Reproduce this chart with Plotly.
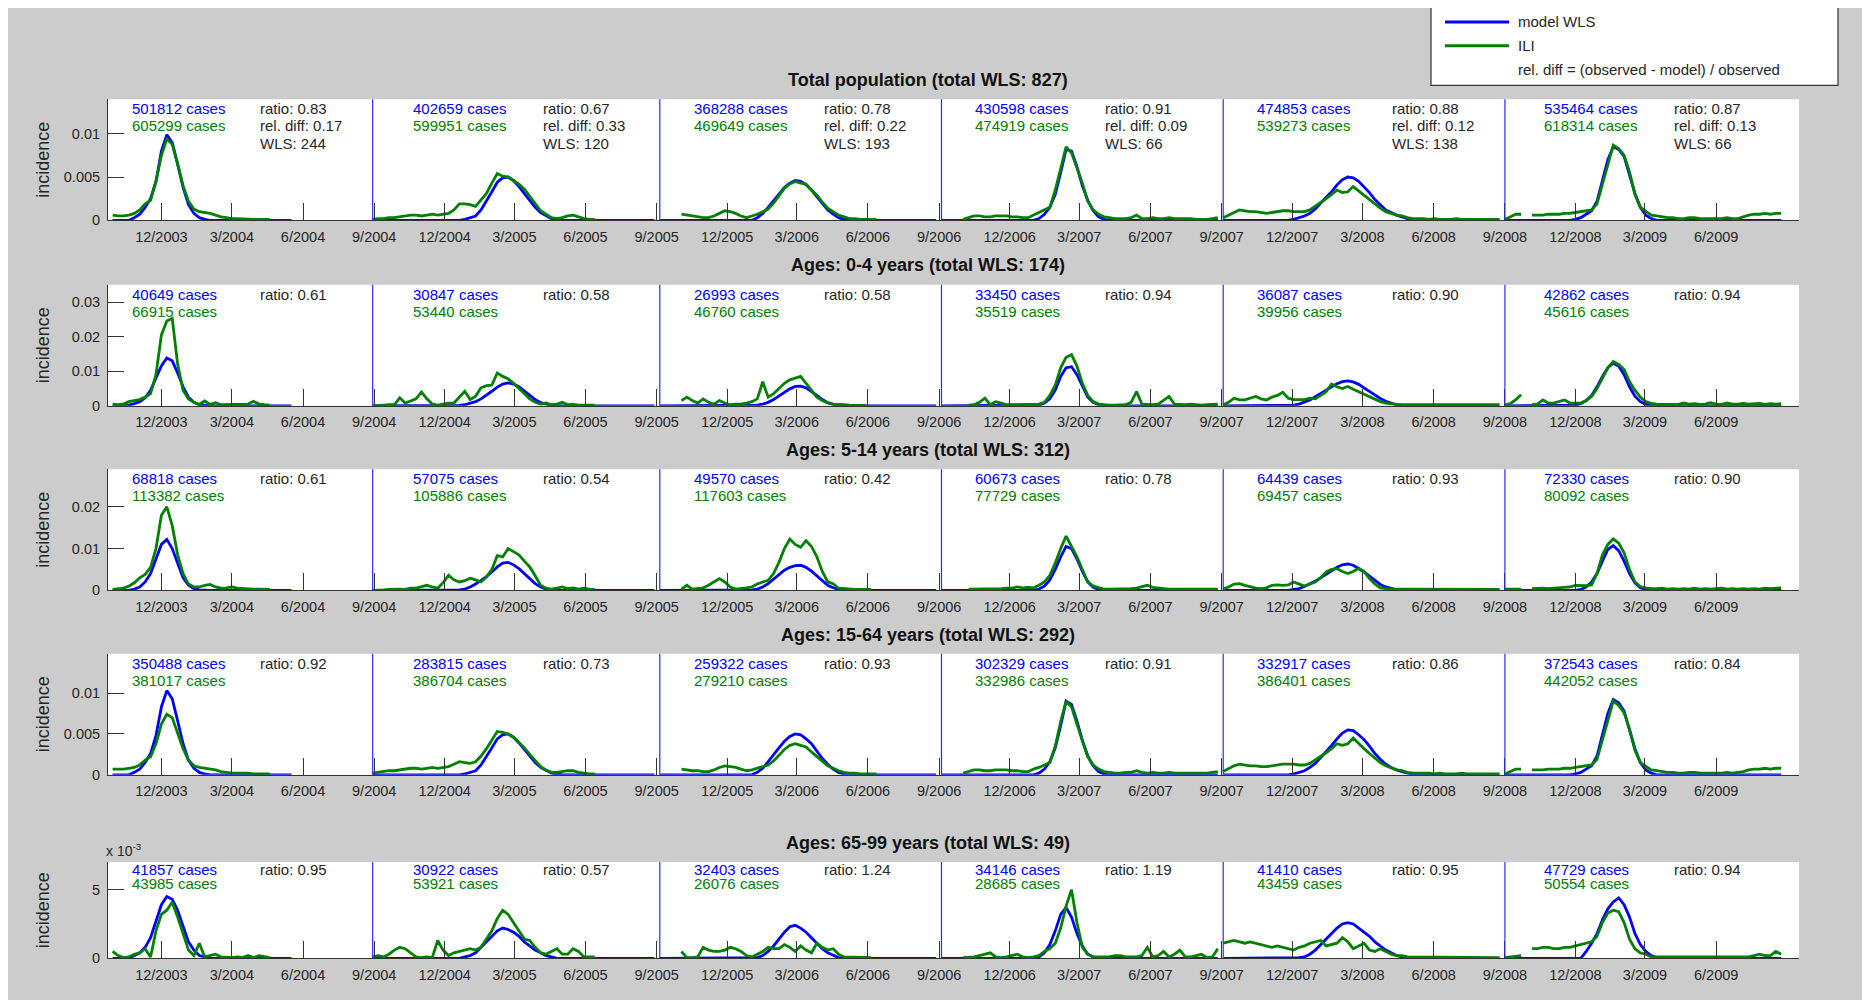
import plotly.graph_objects as go
import pandas as pd

# ---------------- data (incidence values in units of 1e-3) ----------------
UNIT = 1e-3
SEASON_START = ["2003-09-29", "2004-08-30", "2005-09-05", "2006-09-04", "2007-09-03", "2008-09-01"]
N = None

# Total population
model_total = [
    [0,0,0,0,0.3,0.7,1.5,2.5,4.5,8.0,9.9,9.0,6.5,3.8,1.8,0.8,0.3,0.1,0,0,0,0,0,0,0,0,0,0,0,0,0,0,0,0],
    [0,0,0,0,0,0,0,0,0,0,0,0,0,0,0,0,0,0.1,0.3,0.5,1.2,2.2,3.3,4.4,4.9,5.0,4.6,3.9,3.1,2.3,1.5,0.9,0.5,0.2,0.1,0,0,0,0,0,0,0,0,0,0,0,0,0,0,0,0,0,0],
    [0,0,0,0,0,0,0,0,0,0,0,0,0,0,0,0,0,0,0.3,0.8,1.5,2.3,3.0,3.8,4.3,4.6,4.5,4.1,3.5,2.7,1.9,1.2,0.7,0.3,0.1,0,0,0,0,0,0,0,0,0,0,0,0,0,0,0,0,0],
    [0,0,0,0,0,0,0,0,0,0,0,0,0,0,0,0,0,0,0.2,0.7,1.5,3.0,5.5,8.2,8.0,6.2,4.0,2.3,1.1,0.4,0.1,0,0,0,0,0,0,0,0,0,0,0,0,0,0,0,0,0,0,0,0,0],
    [0,0,0,0,0,0,0,0,0,0,0,0,0,0.1,0.3,0.5,0.8,1.3,2.0,2.6,3.3,4.1,4.7,5.0,4.9,4.5,3.9,3.2,2.4,1.8,1.2,0.9,0.6,0.4,0.2,0.1,0,0,0,0,0,0,0,0,0,0,0,0,0,0,0,0],
    [0,0,0,0,0,0,0,0,0,0,0,0,0,0.1,0.3,0.7,1.1,2.2,4.5,7.0,8.5,8.2,7.4,5.3,3.1,1.5,0.6,0.2,0,0,0,0,0,0,0,0,0,0,0,0,0,0,0,0,0,0,0,0,0,0,0,0],
]
ili_total = [
    [0.6,0.5,0.5,0.6,0.8,1.2,1.9,2.3,4.5,7.5,9.4,8.8,6.5,4.0,2.2,1.3,1.0,0.9,0.8,0.6,0.4,0.3,0.2,0.2,0.15,0.15,0.1,0.1,0.1,0.1],
    [0.1,0.2,0.2,0.3,0.3,0.4,0.5,0.6,0.6,0.5,0.6,0.7,0.6,0.7,0.8,1.2,1.9,1.9,1.8,1.6,2.3,3.1,4.3,5.4,5.1,5.0,4.6,4.2,3.6,2.8,2.0,1.1,0.7,0.3,0.2,0.3,0.5,0.6,0.4,0.2,0.1,0.1],
    [N,N,N,N,0.7,0.6,0.5,0.4,0.3,0.3,0.5,0.8,1.1,1.0,0.8,0.5,0.3,0.5,0.7,1.0,1.3,2.0,2.8,3.7,4.2,4.5,4.3,4.2,3.5,2.9,2.1,1.4,1.0,0.6,0.4,0.2,0.2,0.1,0.1,0.1,0.1],
    [N,N,N,N,0.1,0.3,0.5,0.5,0.4,0.4,0.5,0.5,0.5,0.4,0.4,0.3,0.3,0.6,0.9,1.2,1.5,3.5,6.0,8.5,7.8,6.0,4.3,2.2,1.2,0.7,0.4,0.3,0.2,0.2,0.2,0.3,0.6,0.2,0.2,0.3,0.2,0.2,0.3,0.2,0.2,0.2,0.2,0.1,0.1,0.1,0.2,0.3],
    [0.3,0.6,0.9,1.2,1.1,1.0,1.0,0.9,0.8,0.9,1.0,1.1,1.1,1.0,1.0,1.0,1.2,1.6,2.0,2.5,3.0,3.5,3.2,3.3,3.9,3.4,2.9,2.4,1.8,1.4,1.0,0.8,0.6,0.5,0.3,0.2,0.2,0.2,0.1,0.2,0.1,0.1,0.1,0.2,0.1,0.1,0.1,0.1,0.1,0.1,0.1,0.1],
    [0.1,0.4,0.7,0.7,N,0.6,0.6,0.6,0.7,0.7,0.7,0.8,0.8,0.9,1.0,1.1,1.2,1.9,4.2,6.5,8.7,8.3,7.5,5.6,3.0,1.5,1.0,0.6,0.5,0.4,0.3,0.3,0.2,0.2,0.3,0.3,0.2,0.2,0.2,0.2,0.2,0.3,0.2,0.2,0.4,0.6,0.7,0.7,0.8,0.7,0.8,0.8],
]

# Ages 0-4
model_0_4 = [
    [0,0,0,0.2,0.6,1.2,2.3,4.5,8.0,11.5,13.8,13.0,9.5,5.5,2.5,1.0,0.3,0.1,0,0,0,0,0,0,0,0,0,0,0,0,0,0,0,0],
    [0,0,0,0,0,0,0,0,0,0,0,0,0,0,0,0,0.1,0.3,0.7,1.2,2.0,3.0,4.2,5.4,6.3,6.6,6.3,5.5,4.3,3.0,1.8,0.9,0.4,0.1,0,0,0,0,0,0,0,0,0,0,0,0,0,0,0,0,0,0,0],
    [0,0,0,0,0,0,0,0,0,0,0,0,0,0,0,0,0,0,0.2,0.5,1.0,1.8,2.8,3.9,4.9,5.6,5.7,5.2,4.2,3.0,1.8,0.9,0.4,0.1,0,0,0,0,0,0,0,0,0,0,0,0,0,0,0,0,0,0],
    [0,0,0,0,0,0,0,0,0,0,0,0,0,0,0,0,0,0,0.2,0.8,2.0,4.5,8.5,11.0,11.3,9.0,5.5,2.5,1.0,0.3,0,0,0,0,0,0,0,0,0,0,0,0,0,0,0,0,0,0,0,0,0,0],
    [0,0,0,0,0,0,0,0,0,0,0,0,0,0.2,0.5,1.0,1.7,2.6,3.6,4.6,5.6,6.4,7.0,7.2,6.9,6.2,5.2,4.1,3.0,2.1,1.3,0.7,0.3,0.1,0,0,0,0,0,0,0,0,0,0,0,0,0,0,0,0,0,0],
    [0,0,0,0,0,0,0,0,0,0,0,0,0,0.2,0.6,1.5,3.0,5.5,8.5,11.0,12.3,11.5,9.0,5.5,2.8,1.2,0.4,0.1,0,0,0,0,0,0,0,0,0,0,0,0,0,0,0,0,0,0,0,0,0,0,0,0],
]
ili_0_4 = [
    [0.5,0.3,0.5,1.2,1.5,1.8,2.5,3.5,9.0,20.5,24.5,25.3,12.0,4.5,2.0,1.0,0.4,1.4,0.4,0.9,0.3,0.3,0.4,0.3,0.4,0.5,1.3,0.5,0.3,0.2],
    [0,0,0.2,0.3,0.3,2.3,0.8,1.4,2.0,4.0,2.0,0.5,0.2,0.5,0.8,0.8,2.5,4.2,1.8,2.8,5.2,5.8,6.0,9.5,8.5,7.8,6.5,5.0,3.5,2.0,1.0,0.5,0.8,0.3,0.5,1.0,0.3,0.4,0.2,0.3,0.2,0.2],
    [N,N,N,N,1.5,2.5,1.5,0.8,2.0,1.0,0.5,1.5,0.8,0.3,0.5,0.5,0.8,1.2,2.0,7.0,2.5,3.5,5.0,6.5,7.5,8.0,8.5,6.5,4.5,2.5,1.5,0.8,0.5,0.3,0.3,0.2,0.2,0.1,0.1],
    [N,N,N,N,N,0.2,0.3,1.0,2.2,0.3,1.2,0.8,0.3,0.3,0.3,0.3,0.3,0.3,0.5,1.0,3.0,6.0,11.0,14.0,14.8,11.5,6.5,3.0,1.2,0.5,0.3,0.2,0.2,0.2,0.3,1.0,4.1,0.5,0.3,0.3,0.5,1.5,2.7,0.5,0.3,0.3,0.5,0.3,0.2,0.3,0.4,0.5],
    [0.3,1.0,2.2,1.7,1.7,2.2,2.7,2.0,1.7,2.5,3.0,3.9,2.2,1.8,1.7,1.8,2.2,2.0,3.0,4.1,6.3,5.5,5.0,5.6,4.8,4.1,3.5,2.7,2.0,1.2,0.8,0.5,0.4,0.3,0.3,0.3,0.4,0.3,0.3,0.5,0.3,0.3,0.4,0.3,0.3,0.3,0.3,0.3,0.3,0.3,0.3,0.3],
    [0.3,0.6,1.8,3.2,N,0.3,0.5,1.7,0.8,0.8,1.2,1.7,0.8,0.8,0.8,1.5,2.7,5.0,8.0,11.0,12.8,12.0,10.5,7.0,4.5,2.5,1.2,0.7,0.5,0.5,0.4,0.5,0.4,0.8,0.5,0.6,0.4,0.5,0.9,0.5,0.4,0.8,0.5,0.5,0.7,0.5,0.5,0.7,0.4,0.6,0.5,0.6],
]

# Ages 5-14
model_5_14 = [
    [0,0,0,0,0.3,0.8,2.0,4.0,7.5,11.0,12.2,10.0,6.5,3.0,1.2,0.4,0.1,0,0,0,0,0,0,0,0,0,0,0,0,0,0,0,0,0],
    [0,0,0,0,0,0,0,0,0,0,0,0,0,0,0,0,0.1,0.3,0.8,1.5,2.3,3.3,4.4,5.6,6.5,6.7,6.1,5.2,4.0,2.8,1.6,0.8,0.3,0.1,0,0,0,0,0,0,0,0,0,0,0,0,0,0,0,0,0,0,0],
    [0,0,0,0,0,0,0,0,0,0,0,0,0,0,0,0,0,0.1,0.3,0.8,1.6,2.6,3.8,4.8,5.5,5.9,6.0,5.5,4.6,3.5,2.2,1.2,0.6,0.2,0,0,0,0,0,0,0,0,0,0,0,0,0,0,0,0,0,0],
    [0,0,0,0,0,0,0,0,0,0,0,0,0,0,0,0,0,0,0.3,1.0,2.5,5.0,8.0,10.5,10.0,7.5,4.5,2.0,0.7,0.2,0,0,0,0,0,0,0,0,0,0,0,0,0,0,0,0,0,0,0,0,0,0],
    [0,0,0,0,0,0,0,0,0,0,0,0,0,0.2,0.4,0.9,1.5,2.2,3.0,3.9,4.8,5.5,6.1,6.3,6.0,5.3,4.4,3.4,2.3,1.4,0.8,0.4,0.1,0,0,0,0,0,0,0,0,0,0,0,0,0,0,0,0,0,0,0],
    [0,0,0,0,0,0,0,0,0,0,0,0,0,0,0.2,0.8,2.0,4.0,7.0,9.8,10.7,9.5,7.0,4.0,1.8,0.6,0.2,0,0,0,0,0,0,0,0,0,0,0,0,0,0,0,0,0,0,0,0,0,0,0,0,0],
]
ili_5_14 = [
    [0.2,0.3,0.5,1.0,1.8,3.0,3.8,5.5,10.0,18.0,20.0,15.5,8.5,4.0,1.5,0.8,0.8,1.2,1.4,0.8,0.5,0.6,0.8,0.5,0.4,0.4,0.3,0.3,0.3,0.2],
    [0,0,0.1,0.2,0.3,0.3,0.2,0.5,0.5,0.8,1.2,0.8,0.5,1.8,3.6,2.5,2.0,2.3,2.9,2.5,2.0,3.2,5.0,8.3,8.0,10.0,9.2,8.5,7.0,5.6,3.5,1.2,0.5,0.3,0.5,0.8,0.4,0.6,0.3,0.5,0.3,0.2],
    [N,N,N,N,0.3,1.2,0.3,0.4,0.6,1.2,2.0,2.8,2.0,0.8,0.3,0.4,0.6,0.8,1.5,2.0,2.4,4.0,6.7,10.0,12.3,11.0,10.3,11.9,10.5,8.0,4.5,2.0,1.6,0.5,0.4,0.2,0.2,0.2,0.2,0.2],
    [N,N,N,N,N,0.3,0.3,0.3,0.4,0.4,0.3,0.4,0.5,0.5,0.8,0.6,0.7,0.6,1.2,2.0,3.6,6.5,10.0,13.0,10.5,8.0,5.0,2.0,1.0,0.6,0.3,0.3,0.3,0.3,0.3,0.4,0.5,0.8,1.2,0.7,0.5,0.4,0.3,0.3,0.3,0.2,0.3,0.2,0.2,0.2,0.2,0.3],
    [0.3,0.8,1.5,1.6,1.2,0.8,0.5,0.4,0.6,1.2,1.3,1.2,1.3,2.0,1.5,1.0,1.5,2.0,3.0,4.4,5.0,5.2,4.5,4.0,4.5,5.3,4.5,2.8,1.5,0.6,0.4,0.3,0.3,0.3,0.3,0.3,0.3,0.2,0.3,0.2,0.3,0.2,0.2,0.2,0.3,0.2,0.2,0.2,0.2,0.2,0.2,0.2],
    [0.3,0.3,0.4,0.3,N,0.4,0.5,0.5,0.4,0.5,0.6,0.6,0.8,1.2,1.2,1.1,1.3,4.0,8.5,11.0,12.3,11.3,9.0,5.0,2.0,0.9,0.6,0.4,0.4,0.5,0.3,0.4,0.3,0.4,0.3,0.5,0.3,0.4,0.3,0.4,0.5,0.3,0.4,0.3,0.4,0.3,0.4,0.3,0.5,0.4,0.5,0.6],
]

# Ages 15-64
model_15_64 = [
    [0,0,0,0,0.3,0.7,1.5,2.6,4.8,8.3,10.3,9.3,6.6,3.8,1.8,0.8,0.3,0.1,0,0,0,0,0,0,0,0,0,0,0,0,0,0,0,0],
    [0,0,0,0,0,0,0,0,0,0,0,0,0,0,0,0,0,0.1,0.3,0.5,1.2,2.2,3.3,4.4,4.9,5.0,4.6,3.9,3.1,2.3,1.5,0.9,0.5,0.2,0.1,0,0,0,0,0,0,0,0,0,0,0,0,0,0,0,0,0,0],
    [0,0,0,0,0,0,0,0,0,0,0,0,0,0,0,0,0,0,0.3,0.8,1.6,2.5,3.3,4.1,4.7,5.0,4.9,4.4,3.8,2.9,2.0,1.3,0.7,0.3,0.1,0,0,0,0,0,0,0,0,0,0,0,0,0,0,0,0,0],
    [0,0,0,0,0,0,0,0,0,0,0,0,0,0,0,0,0,0,0.2,0.7,1.6,3.3,6.0,9.0,8.6,6.6,4.2,2.3,1.1,0.4,0.1,0,0,0,0,0,0,0,0,0,0,0,0,0,0,0,0,0,0,0,0,0],
    [0,0,0,0,0,0,0,0,0,0,0,0,0,0.1,0.3,0.5,0.9,1.4,2.1,2.8,3.6,4.4,5.1,5.5,5.4,4.9,4.3,3.5,2.6,1.9,1.3,0.9,0.6,0.4,0.2,0.1,0,0,0,0,0,0,0,0,0,0,0,0,0,0,0,0],
    [0,0,0,0,0,0,0,0,0,0,0,0,0,0.1,0.3,0.7,1.1,2.3,4.8,7.5,9.2,8.8,7.8,5.6,3.2,1.5,0.6,0.2,0,0,0,0,0,0,0,0,0,0,0,0,0,0,0,0,0,0,0,0,0,0,0,0],
]
ili_15_64 = [
    [0.7,0.7,0.7,0.8,0.9,1.2,1.8,2.2,3.8,6.2,7.4,7.0,5.2,3.2,1.8,1.1,0.9,0.8,0.7,0.6,0.4,0.3,0.2,0.2,0.2,0.2,0.1,0.1,0.1,0.1],
    [0.2,0.3,0.4,0.5,0.5,0.6,0.7,0.8,0.8,0.7,0.8,0.9,0.8,0.9,1.0,1.3,1.6,1.5,1.4,1.6,2.3,3.2,4.3,5.3,5.2,5.0,4.6,4.0,3.3,2.5,1.7,1.0,0.6,0.3,0.3,0.4,0.5,0.5,0.3,0.2,0.1,0.1],
    [N,N,N,N,0.7,0.6,0.5,0.5,0.4,0.4,0.6,0.9,1.1,1.0,0.9,0.7,0.5,0.6,0.8,1.0,1.2,1.7,2.4,3.1,3.6,3.8,3.6,3.4,2.8,2.2,1.6,1.1,0.8,0.5,0.3,0.2,0.2,0.1,0.1,0.1,0.1],
    [N,N,N,N,0.2,0.4,0.6,0.6,0.5,0.5,0.6,0.6,0.6,0.5,0.5,0.4,0.4,0.7,0.9,1.2,1.5,3.5,6.5,9.0,8.3,6.2,4.3,2.2,1.2,0.7,0.4,0.3,0.2,0.2,0.3,0.3,0.5,0.3,0.2,0.3,0.2,0.2,0.3,0.2,0.2,0.2,0.2,0.2,0.2,0.2,0.3,0.4],
    [0.4,0.8,1.1,1.3,1.2,1.1,1.1,1.0,1.0,1.1,1.2,1.3,1.3,1.3,1.2,1.2,1.4,1.8,2.2,2.7,3.2,3.8,3.6,3.8,4.5,3.8,3.2,2.6,2.0,1.5,1.1,0.8,0.6,0.5,0.3,0.2,0.2,0.2,0.2,0.1,0.2,0.1,0.1,0.1,0.2,0.1,0.1,0.1,0.1,0.1,0.1,0.1],
    [0.1,0.4,0.7,0.7,N,0.6,0.6,0.6,0.7,0.7,0.7,0.8,0.8,0.9,1.0,1.1,1.2,1.9,4.2,6.8,9.0,8.5,7.6,5.6,3.0,1.5,1.0,0.6,0.5,0.4,0.3,0.3,0.2,0.2,0.3,0.3,0.2,0.2,0.2,0.2,0.2,0.3,0.2,0.3,0.4,0.6,0.7,0.7,0.8,0.7,0.8,0.8],
]

# Ages 65-99
model_65_99 = [
    [0,0,0,0,0.2,0.4,0.8,1.5,2.7,3.9,4.5,4.3,3.5,2.3,1.2,0.6,0.2,0.1,0,0,0,0,0,0,0,0,0,0,0,0,0,0,0,0],
    [0,0,0,0,0,0,0,0,0,0,0,0,0,0,0,0,0,0.1,0.2,0.4,0.8,1.2,1.6,2.0,2.2,2.1,1.9,1.6,1.2,0.9,0.6,0.4,0.2,0.1,0,0,0,0,0,0,0,0,0,0,0,0,0,0,0,0,0,0,0],
    [0,0,0,0,0,0,0,0,0,0,0,0,0,0,0,0,0,0,0.05,0.2,0.5,0.9,1.4,1.9,2.3,2.4,2.2,1.9,1.5,1.1,0.7,0.4,0.2,0.05,0,0,0,0,0,0,0,0,0,0,0,0,0,0,0,0,0,0],
    [0,0,0,0,0,0,0,0,0,0,0,0,0,0,0,0,0,0,0.1,0.4,1.0,2.0,3.2,3.7,3.0,1.8,0.9,0.3,0.1,0,0,0,0,0,0,0,0,0,0,0,0,0,0,0,0,0,0,0,0,0,0,0],
    [0,0,0,0,0,0,0,0,0,0,0,0,0,0,0.05,0.1,0.3,0.6,1.0,1.4,1.8,2.2,2.5,2.6,2.5,2.2,1.9,1.6,1.2,0.9,0.6,0.4,0.2,0.1,0,0,0,0,0,0,0,0,0,0,0,0,0,0,0,0,0,0],
    [0,0,0,0,0,0,0,0,0,0,0,0,0,0,0,0.5,1.1,1.8,2.8,3.6,4.1,4.4,3.9,3.0,1.8,1.0,0.5,0.2,0.05,0,0,0,0,0,0,0,0,0,0,0,0,0,0,0,0,0,0,0,0,0,0,0],
]
ili_65_99 = [
    [0.5,0.2,0.05,0.1,0.3,0.4,0.7,0.1,2.0,3.2,3.5,4.1,3.0,1.8,0.6,0.2,1.1,0.1,0.2,0.3,0.1,0.05,0.05,0.1,0.05,0.2,0.05,0.2,0.1,0.05],
    [0.1,0.2,0.1,0.3,0.6,0.8,0.7,0.4,0.1,0.05,0.1,0.05,1.3,0.6,0.2,0.4,0.5,0.6,0.7,0.6,0.8,1.4,2.0,2.9,3.5,3.2,2.6,2.0,1.4,1.3,0.8,0.4,0.3,0.5,0.7,0.3,0.3,0.7,0.5,0.1,0.1,0.1],
    [N,N,N,N,0.5,0.05,0.05,0.1,0.8,0.6,0.5,0.5,0.6,0.8,0.7,0.5,0.2,0.1,0.3,0.5,0.8,0.7,0.7,1.0,0.8,0.5,0.9,0.6,0.4,1.1,0.8,0.6,0.7,0.3,0.1,0.1,0.05,0.05,0.05,0.05],
    [N,N,N,N,0.05,0.05,0.1,0.2,0.3,0.4,0.1,0.05,0.1,0.2,0.3,0.1,0.05,0.1,0.2,0.5,0.7,1.1,2.2,3.8,5.0,2.6,0.8,0.3,0.1,0.1,0.1,0.1,0.2,0.2,0.1,0.1,0.1,0.2,0.8,0.1,0.2,0.5,0.1,0.3,0.6,0.1,0.1,0.2,0.3,0.05,0.1,0.7],
    [1.1,1.2,1.3,1.2,1.1,1.2,1.1,1.0,0.9,0.8,0.9,0.8,0.7,0.6,0.8,0.9,1.1,1.2,1.3,0.9,1.0,1.1,1.5,1.2,0.7,0.9,1.1,0.6,0.5,0.7,0.5,0.3,0.2,0.2,0.1,0.1,0.05,0.1,0.05,0.1,0.05,0.05,0.1,0.05,0.1,0.05,0.05,0.1,0.05,0.05,0.05,0.05],
    [0.05,0.1,0.15,0.2,N,0.7,0.7,0.8,0.8,0.7,0.7,0.8,0.8,0.9,1.0,1.1,1.2,1.6,2.6,3.3,3.5,3.4,2.6,1.4,0.7,0.4,0.3,0.1,0.1,0.1,0.1,0.05,0.1,0.1,0.05,0.1,0.1,0.05,0.1,0.1,0.1,0.05,0.1,0.1,0.1,0.1,0.2,0.3,0.2,0.2,0.5,0.3],
]

# annotation texts
titles = ["Total population (total WLS: 827)", "Ages: 0-4 years (total WLS: 174)",
          "Ages: 5-14 years (total WLS: 312)", "Ages: 15-64 years (total WLS: 292)",
          "Ages: 65-99 years (total WLS: 49)"]
cases_model = [
    [501812, 402659, 368288, 430598, 474853, 535464],
    [40649, 30847, 26993, 33450, 36087, 42862],
    [68818, 57075, 49570, 60673, 64439, 72330],
    [350488, 283815, 259322, 302329, 332917, 372543],
    [41857, 30922, 32403, 34146, 41410, 47729],
]
cases_ili = [
    [605299, 599951, 469649, 474919, 539273, 618314],
    [66915, 53440, 46760, 35519, 39956, 45616],
    [113382, 105886, 117603, 77729, 69457, 80092],
    [381017, 386704, 279210, 332986, 386401, 442052],
    [43985, 53921, 26076, 28685, 43459, 50554],
]
ratios = [
    [0.83, 0.67, 0.78, 0.91, 0.88, 0.87],
    [0.61, 0.58, 0.58, 0.94, 0.90, 0.94],
    [0.61, 0.54, 0.42, 0.78, 0.93, 0.90],
    [0.92, 0.73, 0.93, 0.91, 0.86, 0.84],
    [0.95, 0.57, 1.24, 1.19, 0.95, 0.94],
]
rel_diff_total = [0.17, 0.33, 0.22, 0.09, 0.12, 0.13]
wls_total = [244, 120, 193, 66, 138, 66]

x_tick_dates = []
x_tick_text = []
for yr in range(2003, 2010):
    for mo in (3, 6, 9, 12):
        d = pd.Timestamp(yr, mo, 1)
        if pd.Timestamp("2003-11-01") < d < pd.Timestamp("2009-07-01"):
            x_tick_dates.append(d)
            x_tick_text.append(f"{mo}/{yr}")

y_max = [0.014, 0.035, 0.029, 0.0148, 0.007]
y_ticks = [[0, 0.005, 0.01], [0, 0.01, 0.02, 0.03], [0, 0.01, 0.02], [0, 0.005, 0.01], [0, 0.005]]
y_ticktext = [["0", "0.005", "0.01"], ["0", "0.01", "0.02", "0.03"], ["0", "0.01", "0.02"],
              ["0", "0.005", "0.01"], ["0", "5"]]

# ---------------- layout geometry ----------------
W, H = 1870, 1000
panel_px = [(92, 214), (279, 401), (465, 587), (651, 773), (861, 958)]
title_px = [73, 259, 446, 632, 842]
x_dom = [100 / W, 1791 / W]
x_range = ["2003-09-23", "2009-09-16"]
blue_text_x = ["2003-10-21", "2004-10-18", "2005-10-16", "2006-10-15", "2007-10-14", "2008-10-19"]
black_text_x = ["2004-04-04", "2005-04-04", "2006-04-02", "2007-04-01", "2008-04-06", "2009-04-05"]
row_y = [0.92, 0.78, 0.635]

FONT = "Liberation Sans, Arial, sans-serif"
BLUE = "#0000ff"
GREEN = "#008000"
DARK = "#262626"

model_sets = [model_total, model_0_4, model_5_14, model_15_64, model_65_99]
ili_sets = [ili_total, ili_0_4, ili_5_14, ili_15_64, ili_65_99]

fig = go.Figure()
annotations = []
shapes = []

for p in range(5):
    xa = "x" if p == 0 else f"x{p+1}"
    ya = "y" if p == 0 else f"y{p+1}"
    for s in range(6):
        xs = pd.date_range(SEASON_START[s], periods=len(model_sets[p][s]), freq="7D")
        fig.add_trace(go.Scatter(x=xs, y=[v * UNIT for v in model_sets[p][s]], mode="lines",
                                 line=dict(color=BLUE, width=2.8), xaxis=xa, yaxis=ya,
                                 showlegend=False, hoverinfo="skip"))
    for s in range(6):
        vals = ili_sets[p][s]
        xs = pd.date_range(SEASON_START[s], periods=len(vals), freq="7D")
        fig.add_trace(go.Scatter(x=xs, y=[None if v is None else v * UNIT for v in vals], mode="lines",
                                 line=dict(color=GREEN, width=2.8), xaxis=xa, yaxis=ya,
                                 connectgaps=False, showlegend=False, hoverinfo="skip"))

    top, bot = panel_px[p]
    ydom = [1 - bot / H, 1 - top / H]
    fig.layout[("xaxis" if p == 0 else f"xaxis{p+1}")] = dict(
        domain=x_dom, range=x_range, type="date", anchor=ya,
        tickmode="array", tickvals=x_tick_dates, ticktext=x_tick_text,
        ticks="inside", ticklen=17, tickwidth=1, tickcolor="#333333",
        showline=True, linecolor="#333333", linewidth=1, mirror=False,
        showgrid=False, zeroline=False, ticklabelstandoff=3,
        tickfont=dict(family=FONT, size=14.5, color=DARK))
    fig.layout[("yaxis" if p == 0 else f"yaxis{p+1}")] = dict(
        domain=ydom, range=[0, y_max[p]], anchor=xa,
        tickmode="array", tickvals=y_ticks[p], ticktext=y_ticktext[p],
        ticks="inside", ticklen=16, tickwidth=1, tickcolor="#333333",
        showline=True, linecolor="#333333", linewidth=1, mirror=False,
        showgrid=False, zeroline=False, ticklabelstandoff=4,
        tickfont=dict(family=FONT, size=14.5, color=DARK))

    # season separators
    for s in range(1, 6):
        shapes.append(dict(type="line", xref=xa, yref=f"{ya} domain", x0=SEASON_START[s], x1=SEASON_START[s],
                           y0=0, y1=1, line=dict(color="#2a2aff", width=1.2)))

    # title
    annotations.append(dict(text=f"<b>{titles[p]}</b>", xref="paper", yref="paper", x=920 / W,
                            y=1 - title_px[p] / H, xanchor="center", yanchor="middle", showarrow=False,
                            font=dict(family=FONT, size=18, color="#111111")))
    # y label
    annotations.append(dict(text="incidence", xref="paper", yref="paper", x=35 / W,
                            y=1 - (top + bot) / 2 / H, xanchor="center", yanchor="middle", textangle=-90,
                            showarrow=False, font=dict(family=FONT, size=18, color=DARK)))
    # season texts
    for s in range(6):
        annotations.append(dict(text=f"{cases_model[p][s]} cases", xref=xa, yref=f"{ya} domain",
                                x=blue_text_x[s], y=row_y[0], xanchor="left", yanchor="middle",
                                showarrow=False, font=dict(family=FONT, size=15, color=BLUE)))
        annotations.append(dict(text=f"{cases_ili[p][s]} cases", xref=xa, yref=f"{ya} domain",
                                x=blue_text_x[s], y=row_y[1], xanchor="left", yanchor="middle",
                                showarrow=False, font=dict(family=FONT, size=15, color=GREEN)))
        annotations.append(dict(text=f"ratio: {ratios[p][s]:.2f}", xref=xa, yref=f"{ya} domain",
                                x=black_text_x[s], y=row_y[0], xanchor="left", yanchor="middle",
                                showarrow=False, font=dict(family=FONT, size=15, color=DARK)))
        if p == 0:
            annotations.append(dict(text=f"rel. diff: {rel_diff_total[s]:.2f}", xref=xa, yref=f"{ya} domain",
                                    x=black_text_x[s], y=row_y[1], xanchor="left", yanchor="middle",
                                    showarrow=False, font=dict(family=FONT, size=15, color=DARK)))
            annotations.append(dict(text=f"WLS: {wls_total[s]}", xref=xa, yref=f"{ya} domain",
                                    x=black_text_x[s], y=row_y[2], xanchor="left", yanchor="middle",
                                    showarrow=False, font=dict(family=FONT, size=15, color=DARK)))

# exponent label for last panel
annotations.append(dict(text="x 10<sup>-3</sup>", xref="paper", yref="paper", x=96 / W, y=1 - 849 / H,
                        xanchor="left", yanchor="middle", showarrow=False,
                        font=dict(family=FONT, size=14, color=DARK)))

# legend box (manual)
shapes.append(dict(type="rect", xref="paper", yref="paper", x0=1423 / W, x1=1830 / W, y0=1 - 78 / H, y1=1.02,
                   fillcolor="white", line=dict(color="#333333", width=1.2), layer="above"))
shapes.append(dict(type="line", xref="paper", yref="paper", x0=1437 / W, x1=1501 / W, y0=1 - 14 / H, y1=1 - 14 / H,
                   line=dict(color=BLUE, width=3), layer="above"))
shapes.append(dict(type="line", xref="paper", yref="paper", x0=1437 / W, x1=1501 / W, y0=1 - 38 / H, y1=1 - 38 / H,
                   line=dict(color=GREEN, width=3), layer="above"))
for txt, ypx in [("model WLS", 14), ("ILI", 38), ("rel. diff = (observed - model) / observed", 62)]:
    annotations.append(dict(text=txt, xref="paper", yref="paper", x=1508 / W, y=1 - ypx / H,
                            xanchor="left", yanchor="middle", showarrow=False,
                            font=dict(family=FONT, size=15, color=DARK)))

fig.update_layout(width=W, height=H, margin=dict(l=0, r=0, t=0, b=0),
                  paper_bgcolor="#cccccc", plot_bgcolor="white",
                  annotations=annotations, shapes=shapes, showlegend=False)

fig.write_html("out.html", config={"displayModeBar": False})
